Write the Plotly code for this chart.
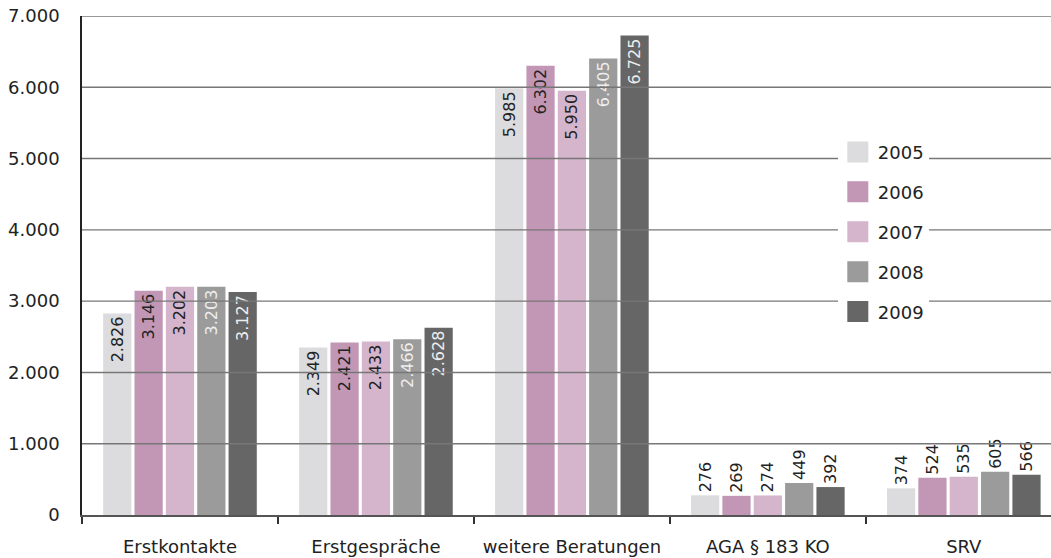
import plotly.graph_objects as go

categories = ["Erstkontakte", "Erstgespräche", "weitere Beratungen", "AGA § 183 KO", "SRV"]
years = ["2005", "2006", "2007", "2008", "2009"]
v2005 = [2826, 2349, 5985, 276, 374]
v2006 = [3146, 2421, 6302, 269, 524]
v2007 = [3202, 2433, 5950, 274, 535]
v2008 = [3203, 2466, 6405, 449, 605]
v2009 = [3127, 2628, 6725, 392, 566]
series = [v2005, v2006, v2007, v2008, v2009]
y_ticks = [0, 1000, 2000, 3000, 4000, 5000, 6000, 7000]

colors = ["#dcdcde", "#c297b5", "#d5b5cc", "#9b9b9b", "#666666"]
inside_colors = ["#222222", "#222222", "#222222", "#eeeeee", "#eeeeee"]
FONT = "DejaVu Sans"

fig = go.Figure()
for i, (yr, vals) in enumerate(zip(years, series)):
    positions = ["inside" if v > 1000 else "outside" for v in vals]
    fig.add_trace(go.Bar(
        name=yr, x=categories, y=vals,
        marker=dict(color=colors[i], line=dict(width=0)),
        texttemplate="%{y:,d}", textposition=positions, textangle=-90,
        insidetextanchor="end", constraintext="none", cliponaxis=False,
        insidetextfont=dict(color=inside_colors[i], size=16, family=FONT),
        outsidetextfont=dict(color="#222222", size=16, family=FONT),
        showlegend=False,
    ))

for i, yr in enumerate(years):
    fig.add_trace(go.Scatter(
        name=yr, x=[None], y=[None], mode="markers",
        marker=dict(symbol="square", size=16, color=colors[i],
                    line=dict(color=colors[i], width=5)),
        legendgroup=yr, showlegend=True, hoverinfo="skip",
    ))

shapes = []
for t in y_ticks[1:]:
    shapes.append(dict(type="line", xref="paper", x0=0, x1=1, yref="y", y0=t, y1=t,
                       line=dict(color="#777777", width=1.4), layer="above"))

fig.update_layout(
    width=1051, height=558,
    margin=dict(l=82, r=0, t=16, b=43),
    paper_bgcolor="white", plot_bgcolor="white",
    separators=",.",
    barmode="group", bargap=0.2, bargroupgap=0.1,
    font=dict(family=FONT, size=15, color="#222222"),
    showlegend=True,
    legend=dict(x=0.780, y=0.764, xanchor="left", yanchor="top",
                bgcolor="white", borderwidth=0,
                font=dict(size=18, color="#222222", family=FONT),
                tracegroupgap=13.5, itemwidth=30),
    shapes=shapes,
    xaxis=dict(range=[-0.5, 4.445], showgrid=False, showline=True, linecolor="#555555",
               linewidth=2, ticks="outside", tickson="boundaries", ticklen=7,
               tickcolor="#333333", tickwidth=1.5, ticklabelstandoff=14,
               automargin=False,
               tickfont=dict(size=18, family=FONT, color="#222222")),
    yaxis=dict(range=[0, 7000], tickvals=y_ticks, tickformat=",d", showgrid=False,
               showline=True, linecolor="#222222", linewidth=1.5, zeroline=False,
               ticks="", ticklabelstandoff=17, automargin=False,
               ticklabeloverflow="allow",
               tickfont=dict(size=18, family=FONT, color="#222222")),
)

fig.write_html("out.html", config={"displayModeBar": False},
               post_script="document.body.style.margin='0';document.body.style.overflow='hidden';")
